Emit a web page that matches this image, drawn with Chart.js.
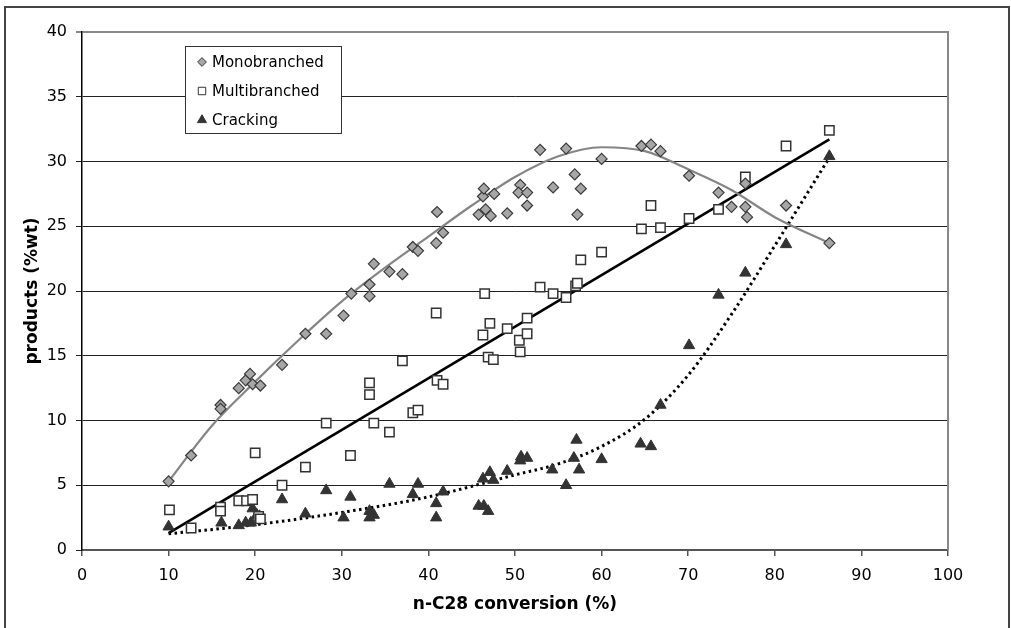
<!DOCTYPE html>
<html>
<head>
<meta charset="utf-8">
<script src="https://cdn.jsdelivr.net/npm/chart.js@4.4.1/dist/chart.umd.min.js"></script>
<style>
  html, body { margin: 0; padding: 0; background: #fff; }
  canvas { display: block; }
</style>
</head>
<body>
<canvas id="myChart" width="1011" height="628"></canvas>
<script>
const seriesNames = ['Monobranched', 'Multibranched', 'Cracking'];
const xTitle = 'n-C28 conversion (%)';
const yTitle = 'products (%wt)';

// points
const monoX = [10.0, 12.6, 16.0, 16.0, 18.1, 18.9, 19.4, 19.7, 20.6, 23.1, 25.8, 28.2, 30.2, 31.1, 33.2, 33.2, 33.7, 35.5, 37.0, 38.2, 38.8, 40.9, 41.0, 41.7, 45.8, 46.3, 46.4, 46.6, 47.2, 47.6, 49.1, 50.6, 50.4, 51.4, 51.4, 52.9, 54.4, 55.9, 56.9, 57.2, 57.6, 60.0, 64.6, 65.7, 66.8, 70.1, 73.5, 75.0, 76.6, 76.8, 76.6, 81.3, 86.3];
const monoY = [5.3, 7.3, 11.2, 10.9, 12.5, 13.1, 13.6, 12.8, 12.7, 14.3, 16.7, 16.7, 18.1, 19.8, 20.5, 19.6, 22.1, 21.5, 21.3, 23.4, 23.1, 23.7, 26.1, 24.5, 25.9, 27.3, 27.9, 26.3, 25.8, 27.5, 26.0, 28.2, 27.6, 27.6, 26.6, 30.9, 28.0, 31.0, 29.0, 25.9, 27.9, 30.2, 31.2, 31.3, 30.8, 28.9, 27.6, 26.5, 26.5, 25.7, 28.3, 26.6, 23.7];

const multiX = [10.1, 12.6, 16.0, 16.0, 18.1, 19.0, 19.7, 20.0, 20.4, 20.6, 23.1, 25.8, 28.2, 31.0, 33.2, 33.2, 33.7, 35.5, 37.0, 38.2, 38.8, 41.0, 41.7, 40.9, 46.3, 46.9, 47.5, 46.5, 47.1, 49.1, 50.5, 50.6, 51.4, 51.4, 52.9, 54.4, 55.9, 57.0, 57.2, 57.6, 60.0, 64.6, 65.7, 66.8, 70.1, 73.5, 76.6, 81.3, 86.3];
const multiY = [3.1, 1.7, 3.3, 3.0, 3.8, 3.8, 3.9, 7.5, 2.6, 2.4, 5.0, 6.4, 9.8, 7.3, 12.9, 12.0, 9.8, 9.1, 14.6, 10.6, 10.8, 13.1, 12.8, 18.3, 16.6, 14.9, 14.7, 19.8, 17.5, 17.1, 16.2, 15.3, 16.7, 17.9, 20.3, 19.8, 19.5, 20.4, 20.6, 22.4, 23.0, 24.8, 26.6, 24.9, 25.6, 26.3, 28.8, 31.2, 32.4];

const crackX = [10.0, 16.1, 18.1, 18.9, 19.5, 19.7, 20.2, 20.5, 23.1, 25.8, 28.2, 30.2, 31.0, 33.2, 33.2, 33.7, 35.5, 38.2, 38.8, 40.9, 40.9, 41.7, 45.8, 46.4, 46.9, 46.3, 47.1, 47.5, 49.1, 50.6, 50.7, 51.4, 54.3, 55.9, 56.8, 57.1, 57.4, 60.0, 64.5, 65.7, 66.8, 70.1, 73.5, 76.6, 81.3, 86.3];
const crackY = [1.8, 2.1, 1.9, 2.1, 2.1, 3.2, 2.7, 2.6, 3.9, 2.8, 4.6, 2.5, 4.1, 3.0, 2.5, 2.7, 5.1, 4.3, 5.1, 3.6, 2.5, 4.5, 3.4, 3.4, 3.0, 5.5, 6.0, 5.4, 6.1, 6.9, 7.2, 7.1, 6.2, 5.0, 7.1, 8.5, 6.2, 7.0, 8.2, 8.0, 11.2, 15.8, 19.7, 21.4, 23.6, 30.4];

// trend lines
const monoFitX = [10, 15, 20, 25, 30, 35, 40, 45, 50, 55, 60, 65, 70, 75, 80, 86.3];
const monoFitY = [5.3, 9.6, 13.0, 16.2, 19.2, 21.8, 24.2, 26.6, 28.8, 30.4, 31.1, 30.8, 29.4, 27.8, 25.7, 23.7];
const multiFitX = [10, 86.3];
const multiFitY = [1.3, 31.7];
const crackFitX = [10, 20, 30, 40, 50, 55, 60, 65, 70, 75, 80, 86.3];
const crackFitY = [1.25, 1.95, 2.9, 4.1, 5.8, 6.65, 8.0, 10.1, 13.5, 18.2, 23.5, 30.3];

const pts = (xs, ys) => xs.map((x, i) => ({ x, y: ys[i] }));

const FONT = "'DejaVu Sans', Verdana, sans-serif";

const markerStyles = [
  { pointStyle: 'rectRot', radius: 5.5, backgroundColor: '#a6a6a6', borderColor: '#3a3a3a', borderWidth: 1.2 },
  { pointStyle: 'rect', radius: 6.6, backgroundColor: '#ffffff', borderColor: '#333333', borderWidth: 1.5 },
  { pointStyle: 'triangle', radius: 6.5, backgroundColor: '#333333', borderColor: '#333333', borderWidth: 1 }
];

const framePlugin = {
  id: 'frame',
  beforeDraw(chart) {
    const c = chart.ctx;
    c.save();
    c.fillStyle = '#fff';
    c.fillRect(0, 0, chart.width, chart.height);
    c.strokeStyle = '#444';
    c.lineWidth = 2;
    c.strokeRect(5, 7, chart.width - 7, chart.height + 40);
    c.restore();
  },
  beforeDatasetsDraw(chart) {
    const a = chart.chartArea, c = chart.ctx;
    c.save();
    c.strokeStyle = '#888';
    c.lineWidth = 2;
    c.beginPath();
    c.moveTo(a.right, a.top - 1);
    c.lineTo(a.right, a.bottom);
    c.stroke();
    c.restore();
  }
};

const boxLegend = {
  id: 'boxLegend',
  afterDraw(chart) {
    const a = chart.chartArea, c = chart.ctx;
    const x = a.left + 103, y = a.top + 14, w = 156, h = 87;
    c.save();
    c.fillStyle = '#fff';
    c.fillRect(x, y, w, h);
    c.strokeStyle = '#333';
    c.lineWidth = 1;
    c.strokeRect(x + 0.5, y + 0.5, w, h);
    c.font = '15px ' + FONT;
    c.textBaseline = 'middle';
    seriesNames.forEach((name, i) => {
      const cy = y + 16 + i * 29;
      const s = markerStyles[i];
      c.fillStyle = s.backgroundColor;
      c.strokeStyle = s.borderColor;
      c.lineWidth = 1;
      Chart.helpers.drawPoint(c, { pointStyle: s.pointStyle, radius: s.radius * 0.8, rotation: 0, borderWidth: 1 }, x + 17, cy);
      c.fillStyle = '#000';
      c.fillText(name, x + 27, cy + 1);
    });
    c.restore();
  }
};

const ctx = document.getElementById('myChart');
const myChart = new Chart(ctx, {
  type: 'scatter',
  data: {
    datasets: [
      { label: seriesNames[0], data: pts(monoX, monoY), ...markerStyles[0], pointRadius: markerStyles[0].radius },
      { label: seriesNames[1], data: pts(multiX, multiY), ...markerStyles[1], pointRadius: markerStyles[1].radius },
      { label: seriesNames[2], data: pts(crackX, crackY), ...markerStyles[2], pointRadius: markerStyles[2].radius },
      { type: 'line', label: 'fit1', data: pts(monoFitX, monoFitY), borderColor: '#858585', borderWidth: 2.2,
        pointRadius: 0, cubicInterpolationMode: 'monotone', fill: false },
      { type: 'line', label: 'fit2', data: pts(multiFitX, multiFitY), borderColor: '#000', borderWidth: 2.6,
        pointRadius: 0, fill: false },
      { type: 'line', label: 'fit3', data: pts(crackFitX, crackFitY), borderColor: '#000', borderWidth: 3,
        borderDash: [2.5, 3.5], pointRadius: 0, cubicInterpolationMode: 'monotone', fill: false }
    ]
  },
  options: {
    responsive: false,
    animation: false,
    devicePixelRatio: 1,
    layout: { padding: { left: 18, right: 63, top: 32, bottom: 9 } },
    plugins: {
      legend: { display: false },
      tooltip: { enabled: false }
    },
    scales: {
      x: {
        type: 'linear', min: 0, max: 100,
        ticks: { stepSize: 10, color: '#000', padding: 10, font: { family: FONT, size: 16 } },
        grid: { drawOnChartArea: false, drawTicks: true, tickLength: 6, color: '#555', lineWidth: 1.5 },
        border: { color: '#555', width: 2 },
        title: { display: true, text: xTitle, color: '#000', font: { family: FONT, size: 17, weight: 'bold' }, padding: { top: 4, bottom: 4 } },
        afterFit: s => { s.height = 69; }
      },
      y: {
        type: 'linear', min: 0, max: 40,
        ticks: { stepSize: 5, color: '#000', padding: 9, font: { family: FONT, size: 16 } },
        grid: {
          tickLength: 6,
          color: c => c.tick && c.tick.value === 40 ? '#888' : '#222',
          lineWidth: c => c.tick && c.tick.value === 40 ? 2 : 1
        },
        border: { color: '#000', width: 1.5 },
        title: { display: true, text: yTitle, color: '#000', font: { family: FONT, size: 17, weight: 'bold' }, padding: { top: 4, bottom: 4 } },
        afterFit: s => { s.width = 64; }
      }
    }
  },
  plugins: [framePlugin, boxLegend]
});
</script>
</body>
</html>
